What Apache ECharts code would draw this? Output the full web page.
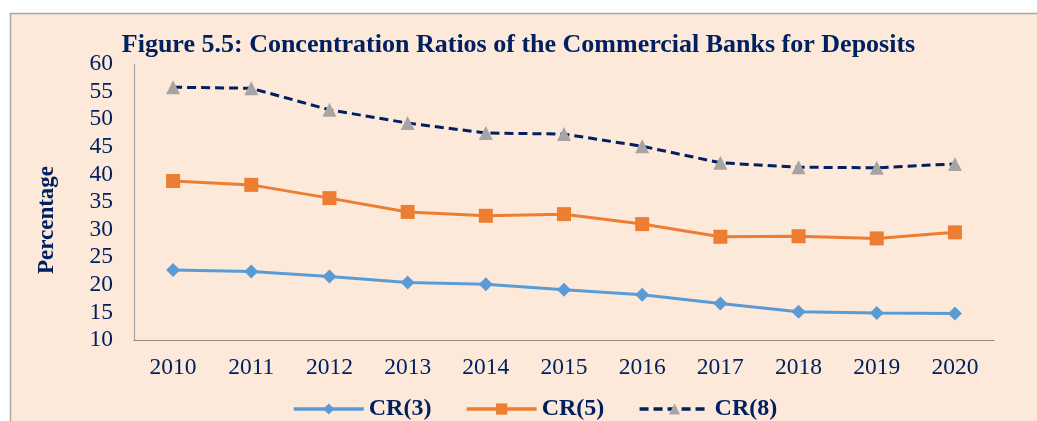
<!DOCTYPE html>
<html>
<head>
<meta charset="utf-8">
<script src="https://cdn.jsdelivr.net/npm/echarts@6/dist/echarts.min.js"></script>
<style>html,body{margin:0;padding:0;background:#fff;}#c{width:1037px;height:421px;}</style>
</head>
<body>
<div id="c"></div>
<script>
const years = ['2010','2011','2012','2013','2014','2015','2016','2017','2018','2019','2020'];
const cr3 = [22.7, 22.4, 21.5, 20.4, 20.1, 19.1, 18.2, 16.6, 15.1, 14.9, 14.8];
const cr5 = [38.8, 38.1, 35.7, 33.2, 32.5, 32.8, 31.0, 28.7, 28.8, 28.4, 29.5];
const cr8 = [55.8, 55.6, 51.7, 49.3, 47.5, 47.3, 45.1, 42.1, 41.3, 41.2, 41.9];

const navy = '#002060';
const font = 'Liberation Serif';
const chart = echarts.init(document.getElementById('c'), null, {renderer: 'canvas'});
chart.setOption({
  backgroundColor: '#ffffff',
  animation: false,
  graphic: [{
    type: 'rect', z: -10, silent: true,
    shape: {x: 10.5, y: 13.5, width: 1040, height: 420},
    style: {fill: '#FCE9DA', stroke: '#A6A6A6', lineWidth: 1.5}
  }],
  title: {
    text: 'Figure 5.5: Concentration Ratios of the Commercial Banks for Deposits',
    left: 'center', top: 27,
    textStyle: {fontFamily: font, fontWeight: 'bold', fontSize: 26, color: navy}
  },
  grid: {left: 134, right: 43, top: 64, bottom: 81},
  legend: {
    top: 392, left: 287,
    itemWidth: 70, itemHeight: 14, itemGap: 33.5,
    lineStyle: {width: 3.5},
    textStyle: {fontFamily: font, fontWeight: 'bold', fontSize: 24, color: navy},
    data: ['CR(3)', 'CR(5)', 'CR(8)']
  },
  xAxis: {
    type: 'category', data: years, boundaryGap: true,
    axisLine: {lineStyle: {color: '#8C8C8C', width: 1.2}},
    axisTick: {show: false},
    axisLabel: {fontFamily: font, fontSize: 23.5, color: navy, margin: 16}
  },
  yAxis: {
    type: 'value', min: 10, max: 60, interval: 5,
    name: 'Percentage', nameLocation: 'middle', nameGap: 75, nameRotate: 90,
    nameTextStyle: {fontFamily: font, fontWeight: 'bold', fontSize: 23, color: navy, padding: [0, 36, 0, 0]},
    axisLine: {show: true, lineStyle: {color: '#A6A6A6', width: 1.2}},
    axisTick: {show: false},
    splitLine: {show: false},
    axisLabel: {fontFamily: font, fontSize: 23.5, color: navy, margin: 21}
  },
  series: [
    {name: 'CR(3)', type: 'line', data: cr3, symbol: 'diamond', symbolSize: 14,
     lineStyle: {color: '#5B9BD5', width: 3}, itemStyle: {color: '#5B9BD5'}},
    {name: 'CR(5)', type: 'line', data: cr5, symbol: 'rect', symbolSize: 14,
     lineStyle: {color: '#ED7D31', width: 3}, itemStyle: {color: '#ED7D31'}},
    {name: 'CR(8)', type: 'line', data: cr8, symbol: 'triangle', symbolSize: 14,
     lineStyle: {color: navy, width: 3, type: [9, 5]}, itemStyle: {color: '#A5A5A5'}}
  ]
});
</script>
</body>
</html>
